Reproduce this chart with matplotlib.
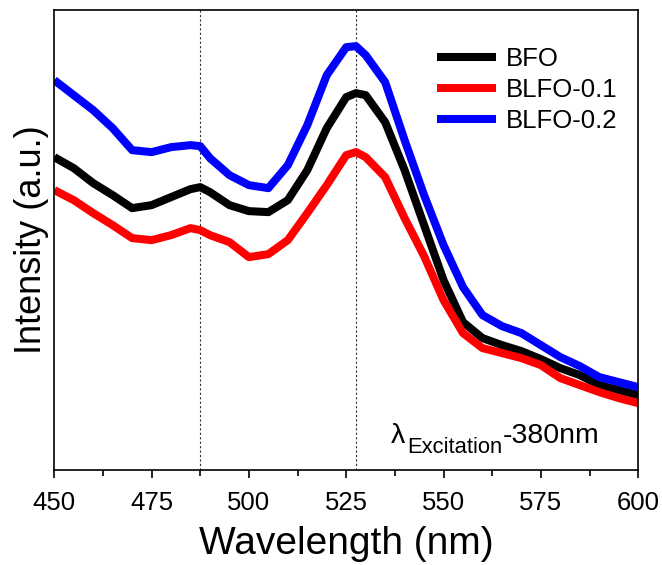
import matplotlib.pyplot as plt
from matplotlib.ticker import MultipleLocator

plt.rcParams['font.family'] = ['Liberation Sans', 'DejaVu Sans']

wavelength = [450, 455, 460, 465, 470, 475, 480, 485, 487.5, 490, 495, 500,
              505, 510, 515, 520, 525, 527.5, 530, 535, 540, 545, 550, 555,
              560, 565, 570, 575, 580, 585, 590, 595, 600]

bfo = [313, 302, 287, 275, 262, 265, 273, 281, 283, 278, 265, 259,
       258, 270, 300, 342, 373, 377, 375, 348, 300, 245, 190, 148,
       132, 125, 119, 111, 102, 95, 85, 80, 75]

blfo_01 = [280, 270, 257, 245, 232, 230, 235, 242, 240, 235, 228, 213,
           216, 230, 257, 285, 315, 318, 313, 293, 252, 214, 170, 137,
           122, 117, 112, 105, 92, 85, 78, 72, 67]

blfo_02 = [390, 375, 360, 342, 320, 318, 323, 325, 324, 312, 295, 285,
           282, 305, 345, 395, 423, 424, 415, 388, 330, 275, 225, 183,
           155, 144, 137, 125, 113, 104, 93, 88, 83]

labels = ['BFO', 'BLFO-0.1', 'BLFO-0.2']
colors = ['black', 'red', 'blue']
peaks = [487.5, 527.5]

fig, ax = plt.subplots(figsize=(6.62, 5.65), dpi=100)
fig.subplots_adjust(left=0.082, right=0.964, top=0.982, bottom=0.168)

for values, label, color in zip([bfo, blfo_01, blfo_02], labels, colors):
    ax.plot(wavelength, values, color=color, lw=5.8, label=label,
            solid_joinstyle='round', solid_capstyle='butt')

for p in peaks:
    ax.axvline(p, color='#333333', lw=0.8, ls=(0, (2, 2)), zorder=0)

ax.set_xlim(450, 600)
ax.set_ylim(0, 460)
ax.xaxis.set_major_locator(MultipleLocator(25))
ax.xaxis.set_minor_locator(MultipleLocator(12.5))
ax.tick_params(axis='x', which='major', direction='out', length=6, width=1.2,
               labelsize=18.5, pad=9)
ax.tick_params(axis='x', which='minor', direction='out', length=4, width=1.2)
ax.set_yticks([])
for s in ax.spines.values():
    s.set_linewidth(1.2)

ax.set_xlabel('Wavelength (nm)', fontsize=28, labelpad=8)
ax.set_ylabel('Intensity (a.u.)', fontsize=26, labelpad=4)

ax.legend(loc='upper left', bbox_to_anchor=(0.656, 0.921), frameon=False,
          fontsize=18.5, handlelength=2.3, handletextpad=0.35,
          labelspacing=0.28, borderpad=0, borderaxespad=0)

# lambda_Excitation-380nm, built from three pieces
ax.text(0.577, 0.059, '\u03bb', transform=ax.transAxes, fontsize=20.5,
        va='baseline')
ax.text(0.604, 0.037, 'Excitation', transform=ax.transAxes, fontsize=15.8,
        va='baseline')
ax.text(0.768, 0.059, '-380nm', transform=ax.transAxes, fontsize=20.5,
        va='baseline')

fig.savefig('out.png')
